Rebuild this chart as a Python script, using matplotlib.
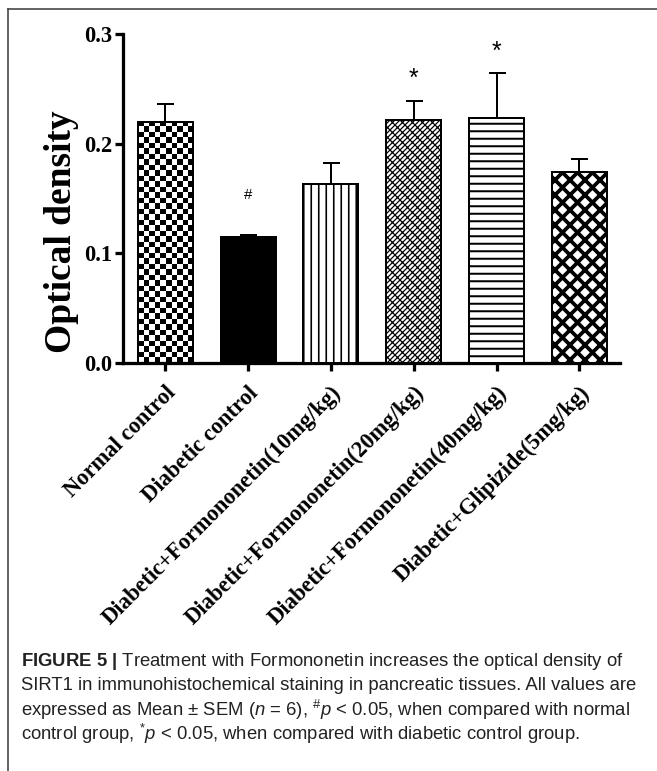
import numpy as np
import matplotlib
matplotlib.use("Agg")
from matplotlib import pyplot as plt
from matplotlib.lines import Line2D

groups = ["Normal control", "Diabetic control",
          "Diabetic+Formononetin(10mg/kg)", "Diabetic+Formononetin(20mg/kg)",
          "Diabetic+Formononetin(40mg/kg)", "Diabetic+Glipizide(5mg/kg)"]
means = [0.220, 0.115, 0.163, 0.222, 0.223, 0.174]
sems = [0.016, 0.002, 0.019, 0.017, 0.041, 0.012]
marks = ["", "#", "", "*", "*", ""]
yticks = [0.0, 0.1, 0.2, 0.3]

caption = [
    r"$\mathbf{FIGURE\ 5\ |}$ Treatment with Formononetin increases the optical density of",
    "SIRT1 in immunohistochemical staining in pancreatic tissues. All values are",
    r"expressed as Mean $\pm$ SEM ($n$ = 6), $^{\#}p$ < 0.05, when compared with normal",
    r"control group, $^{*}p$ < 0.05, when compared with diabetic control group.",
]

plt.rcParams["mathtext.fontset"] = "custom"
plt.rcParams["mathtext.rm"] = "Liberation Sans"
plt.rcParams["mathtext.it"] = "Liberation Sans:italic"
plt.rcParams["mathtext.bf"] = "Liberation Sans:bold"

DPI = 90
fig = plt.figure(figsize=(657 / DPI, 771 / DPI), dpi=DPI)
ax = fig.add_axes([123 / 657, 1 - 363 / 771, 497 / 657, 329 / 771])

x = np.arange(len(groups))
styles = [
    dict(facecolor="none", hatch=None, hlw=1.0),
    dict(facecolor="black", hatch=None, hlw=1.0),
    dict(facecolor="white", hatch="||", hlw=1.3),
    dict(facecolor="white", hatch="/" * 6 + "\\" * 3, hlw=1.0),
    dict(facecolor="white", hatch="--", hlw=1.6),
    dict(facecolor="white", hatch="xx", hlw=3.0),
]

bars = []
for i, st in enumerate(styles):
    with plt.rc_context({"hatch.linewidth": st["hlw"]}):
        b = ax.bar(x[i], means[i], width=0.665, facecolor=st["facecolor"],
                   edgecolor="black", linewidth=1.6, hatch=st["hatch"], zorder=3)[0]
    if hasattr(b, "set_hatch_linewidth"):
        b.set_hatch_linewidth(st["hlw"])
    bars.append(b)

ax.errorbar(x, means, yerr=[np.zeros(len(means)), sems], fmt="none",
            ecolor="black", elinewidth=1.6, capsize=6.8, capthick=1.6, zorder=2)

ax.set_xlim(-0.51, 5.49)
ax.set_ylim(0, 0.3)

# checkerboard fill for the first bar
b0 = bars[0]
x0, x1 = b0.get_x(), b0.get_x() + b0.get_width()
h = b0.get_height()
fig.canvas.draw()
p0 = ax.transData.transform((x0, 0))
p1 = ax.transData.transform((x1, h))
nx = 10
ny = int(round(nx * (p1[1] - p0[1]) / (p1[0] - p0[0])))
board = (np.add.outer(np.arange(ny), np.arange(nx)) % 2).astype(float)
img = ax.imshow(board, extent=[x0, x1, 0, h], cmap="gray", vmin=0, vmax=1,
                interpolation="nearest", aspect="auto", zorder=2.5)
img.set_clip_path(b0)
ax.set_xlim(-0.51, 5.49)
ax.set_ylim(0, 0.3)

for i, m in enumerate(marks):
    if not m:
        continue
    if m == "#":
        ax.text(x[i], means[i] + sems[i] + 0.030, m, ha="center", va="bottom",
                fontsize=12, family="Liberation Sans")
    else:
        ax.text(x[i], means[i] + sems[i] + 0.009, m, ha="center", va="bottom",
                fontsize=20, family="Liberation Sans")

for s in ["top", "right"]:
    ax.spines[s].set_visible(False)
for s in ["left", "bottom"]:
    ax.spines[s].set_linewidth(2.6)

ax.set_yticks(yticks)
ax.set_yticklabels([f"{v:.1f}" for v in yticks], fontsize=18,
                   family="Liberation Serif", fontweight="bold")
ax.set_xticks(x)
ax.set_xticklabels(groups, rotation=45, ha="right", va="top",
                   rotation_mode="anchor", fontsize=18,
                   family="Liberation Serif", fontweight="bold")
ax.tick_params(axis="both", length=6.5, width=2.6, color="black")
ax.tick_params(axis="y", pad=2)
ax.tick_params(axis="x", pad=9)

ax.set_ylabel("Optical density", fontsize=30, family="Liberation Serif",
              fontweight="bold")
ax.yaxis.set_label_coords(-0.088, 0.398)

# panel frame
fig.add_artist(Line2D([7.5 / 657, 1.0], [1 - 8.5 / 771] * 2, color="#444444", lw=1.3))
fig.add_artist(Line2D([7.5 / 657] * 2, [0.0, 1 - 8.5 / 771], color="#444444", lw=1.3))

cap_y = [662, 686, 710, 734]
for line, yy in zip(caption, cap_y):
    fig.text(21 / 657, 1 - yy / 771, line, ha="left", va="center", fontsize=14.8,
             family=["Liberation Sans", "DejaVu Sans"], color="#222222")

fig.savefig("out.png", dpi=DPI)
